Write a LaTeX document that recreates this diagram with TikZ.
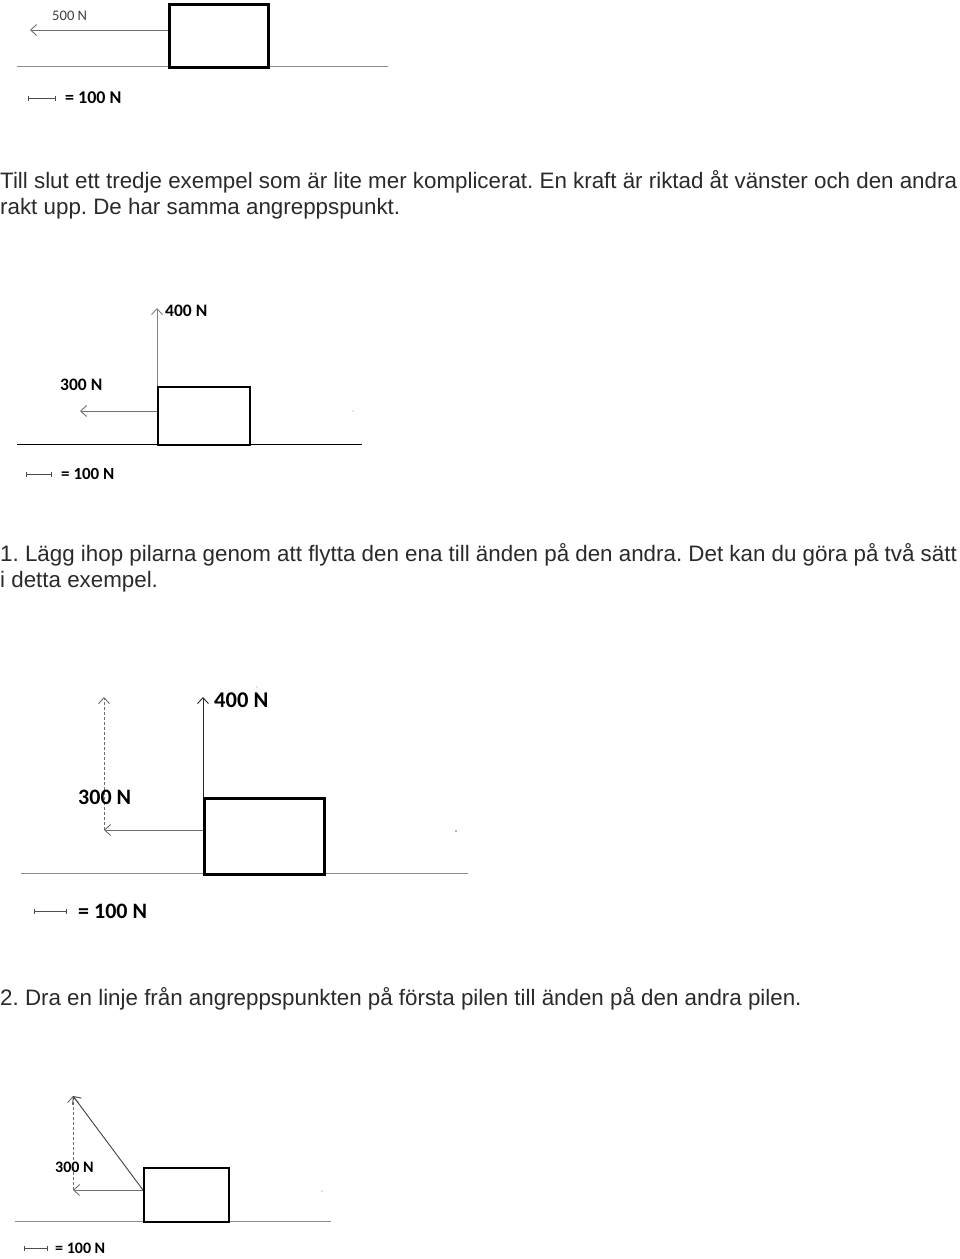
\documentclass[tikz,border=0pt]{standalone}
\usepackage{fontspec}
\setmainfont{Liberation Sans}
\newfontfamily\calfont{Carlito}
\usetikzlibrary{arrows.meta}
\definecolor{txt}{HTML}{2A2A2A}
\definecolor{arrgray}{HTML}{6E6E6E}
\definecolor{gnd}{HTML}{8C8C8C}
\tikzset{
  block/.style={draw=black, line width=2.6pt, fill=white, anchor=north west, inner sep=0pt},
  force/.style={draw=arrgray, line width=0.9pt, -{Straight Barb[length=6pt,width=11pt,line width=0.9pt]}},
  helper/.style={draw=arrgray, line width=0.9pt, dash pattern=on 3pt off 2pt, -{Straight Barb[length=6pt,width=11pt,line width=0.9pt]}},
  ground/.style={draw=gnd, line width=1pt},
  scalebar/.style={draw=black!70, line width=0.9pt, {Bar[width=5pt]}-{Bar[width=5pt]}},
  bodytext/.style={anchor=base west, inner sep=0pt, text=txt, font=\fontsize{22.35}{26}\selectfont},
  lbl/.style={anchor=west, inner sep=0pt, text=black, font=\calfont\bfseries},
}
\begin{document}
\frenchspacing
\begin{tikzpicture}[x=1pt,y=-1pt]
\useasboundingbox (0,0) rectangle (960,1259);
\fill[white] (0,0) rectangle (960,1259);

% ---------- Diagram 1 ----------
\coordinate (g1a) at (17,66); \coordinate (g1b) at (388,66);
\draw[ground] (g1a) -- (g1b);
\node[block, minimum width=99pt, minimum height=63pt] (b1) at (168,3) {};
\coordinate (f1s) at (168,30); \coordinate (f1e) at (30,30);
\draw[force] (f1s) -- (f1e);
\node[anchor=west, inner sep=0pt, text=black!75, font=\calfont\fontsize{14.6}{16}\selectfont] (l500) at (52,16) {500 N};
\coordinate (s1a) at (28,98); \coordinate (s1b) at (56,98);
\draw[scalebar] (s1a) -- (s1b);
\node[lbl, font=\calfont\bfseries\fontsize{18}{20}\selectfont] (k1) at (65,98) {= 100 N};

% ---------- Text ----------
\node[bodytext] (t1) at (0,188) {Till slut ett tredje exempel som är lite mer komplicerat. En kraft är riktad åt vänster och den andra};
\node[bodytext] (t2) at (0,214) {rakt upp. De har samma angreppspunkt.};

% ---------- Diagram 2 ----------
\coordinate (g2a) at (17,444); \coordinate (g2b) at (362,444);
\draw[draw=black, line width=1pt] (g2a) -- (g2b);
\node[block, line width=2.2pt, minimum width=92pt, minimum height=58pt] (b2) at (157,386) {};
\coordinate (u2) at (157,308);
\draw[force, draw=black!50] (b2.north west) -- (u2);
\coordinate (f2s) at (157,411); \coordinate (f2e) at (80,411);
\draw[force] (f2s) -- (f2e);
\node[lbl, font=\calfont\bfseries\fontsize{17.5}{19}\selectfont] (l400a) at (165,311) {400 N};
\node[lbl, font=\calfont\bfseries\fontsize{17.5}{19}\selectfont] (l300a) at (60,385) {300 N};
\fill[black!40] (353,411) circle (0.6pt);
\coordinate (s2a) at (26,474); \coordinate (s2b) at (52,474);
\draw[scalebar] (s2a) -- (s2b);
\node[lbl, font=\calfont\bfseries\fontsize{17}{19}\selectfont] (k2) at (61,474) {= 100 N};

% ---------- Text ----------
\node[bodytext] (t3) at (0,561) {1. Lägg ihop pilarna genom att flytta den ena till änden på den andra. Det kan du göra på två sätt};
\node[bodytext] (t4) at (0,587) {i detta exempel.};

% ---------- Diagram 3 ----------
\coordinate (g3a) at (21,873); \coordinate (g3b) at (468,873);
\draw[ground] (g3a) -- (g3b);
\node[block, line width=2.8pt, minimum width=120pt, minimum height=76pt] (b3) at (203,797) {};
\coordinate (u3) at (203,697);
\draw[force, draw=black!85] (b3.north west) -- (u3);
\coordinate (f3s) at (203,830); \coordinate (f3e) at (104,830);
\draw[force] (f3s) -- (f3e);
\coordinate (d3) at (104,697);
\draw[helper] (f3e) -- (d3);
\node[lbl, font=\calfont\bfseries\fontsize{22.5}{24}\selectfont] (l400b) at (214,700) {400 N};
\node[lbl, font=\calfont\bfseries\fontsize{22}{24}\selectfont] (l300b) at (78,797) {300 N};
\fill[black!60] (456,831) circle (0.8pt);
\fill[black!40] (257,687) circle (0.6pt);
\coordinate (s3a) at (34,911); \coordinate (s3b) at (67,911);
\draw[scalebar] (s3a) -- (s3b);
\node[lbl, font=\calfont\bfseries\fontsize{22}{24}\selectfont] (k3) at (78,911) {= 100 N};

% ---------- Text ----------
\node[bodytext] (t5) at (0,1005) {2. Dra en linje från angreppspunkten på första pilen till änden på den andra pilen.};

% ---------- Diagram 4 ----------
\coordinate (g4a) at (15,1221); \coordinate (g4b) at (331,1221);
\draw[ground] (g4a) -- (g4b);
\node[block, line width=2pt, minimum width=85pt, minimum height=54pt] (b4) at (143,1167) {};
\coordinate (f4s) at (143,1190); \coordinate (f4e) at (73,1190);
\draw[force] (f4s) -- (f4e);
\coordinate (d4) at (73,1096);
\draw[helper] (f4e) -- (d4);
\draw[force, draw=black!75] (f4s) -- (d4);
\node[lbl, font=\calfont\bfseries\fontsize{16}{18}\selectfont] (l300c) at (55,1167) {300 N};
\fill[black!50] (322,1191) circle (0.6pt);
\coordinate (s4a) at (24,1248); \coordinate (s4b) at (48,1248);
\draw[scalebar] (s4a) -- (s4b);
\node[lbl, font=\calfont\bfseries\fontsize{16}{18}\selectfont] (k4) at (55,1248) {= 100 N};
\end{tikzpicture}
\end{document}
